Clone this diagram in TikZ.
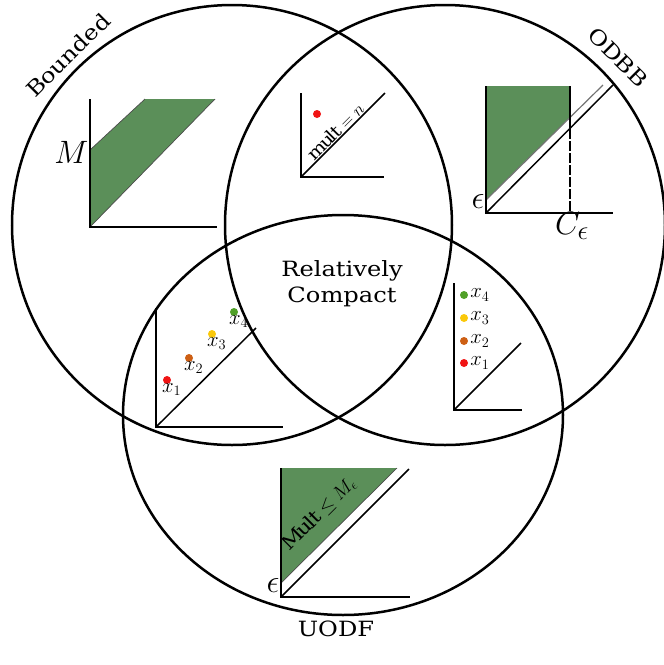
\documentclass[tikz,border=0pt]{standalone}
\usepackage{amsmath,amssymb}
\usepackage{fontspec}
\setmainfont{DejaVu Serif}[FakeStretch=1.15]
\usetikzlibrary{positioning, shapes.geometric}
\definecolor{regiongreen}{RGB}{91,143,89}
\definecolor{ptred}{RGB}{240,20,20}
\definecolor{ptorange}{RGB}{205,95,20}
\definecolor{ptyellow}{RGB}{250,200,10}
\definecolor{ptgreen}{RGB}{80,160,40}
\tikzset{
  venn/.style={circle, draw=black, line width=2.5pt, minimum size=440pt, inner sep=0pt},
  axis/.style={draw=black, line width=1.5pt},
  diag/.style={draw=black, line width=1.5pt},
  region/.style={fill=regiongreen},
  setlabel/.style={font=\fontsize{21}{26}\selectfont, align=center},
  mathlabel/.style={font=\Huge, scale=1.3, inner sep=1pt},
  ptlabel/.style={font=\huge, inner sep=0pt},
  ptdot/.style={circle, fill=#1, minimum size=8pt, inner sep=0pt},
  slanted/.style={rotate=45, anchor=south, inner sep=1pt}
}

\begin{document}
\begin{tikzpicture}[x=1pt, y=-1pt]
\useasboundingbox (0,0) rectangle (664,665);

% the three sets
\node[venn] (bounded) at (232,225) {};
\node[venn] (odbb) at (445,225) {};
\node[venn, ellipse, minimum width=440pt, minimum height=400pt] (uodf) at (343,415) {};
\node[setlabel, rotate=45] (boundedlbl) at (68,55) {Bounded};
\node[setlabel, rotate=-45] (odbblbl) at (618,57) {ODBB};
\node[setlabel] (uodflbl) at (336,629) {UODF};
\node[setlabel] (compact) at (342,284) {Relatively\\Compact};

% bounded
\fill[region] (90,227) -- (90,150) -- (145,99) -- (215,99) -- cycle;
\draw[black!70, line width=0.7pt] (90,150) -- (145,99) (90,227) -- (215,99);
\draw[axis] (90,99) -- (90,227) -- (217,227);
\node[mathlabel, left] (mlbl) at (90,152) {$M$};

% mult = n
\draw[axis] (301,93) -- (301,177) -- (384,177);
\draw[diag] (301,177) -- (385,93);
\node[ptdot=ptred] (multpt) at (317,114) {};
\node[slanted, font=\LARGE] (multlbl) at (341,137) {$\mathrm{mult}=n$};

% odbb
\fill[region] (486,86) -- (570,86) -- (570,117) -- (486,200) -- cycle;
\draw[black!55, line width=1.2pt] (486,200) -- (603,85);
\draw[diag] (486,213) -- (613,85);
\draw[black, line width=1.2pt] (570,86) -- (570,129);
\draw[black, line width=1.2pt, dash pattern=on 10pt off 2pt] (570,129) -- (570,213);
\draw[axis] (486,86) -- (486,213) -- (613,213);
\node[mathlabel, left] (epslbl) at (486,202) {$\epsilon$};
\node[mathlabel, below] (clbl) at (572,211) {$C_\epsilon$};

% points along the diagonal
\draw[axis] (156,308) -- (156,427) -- (283,427);
\draw[diag] (156,427) -- (256,328);
\node[ptdot=ptred] (a1) at (167,380) {};
\node[ptdot=ptorange] (a2) at (189,358) {};
\node[ptdot=ptyellow] (a3) at (212,334) {};
\node[ptdot=ptgreen] (a4) at (234,312) {};
\node[ptlabel, below right=0pt and -8pt of a1] {$x_1$};
\node[ptlabel, below right=0pt and -8pt of a2] {$x_2$};
\node[ptlabel, below right=0pt and -8pt of a3] {$x_3$};
\node[ptlabel, below right=0pt and -8pt of a4] {$x_4$};

% points going up
\draw[axis] (454,283) -- (454,410) -- (522,410);
\draw[diag] (454,410) -- (521,343);
\node[ptdot=ptgreen] (b4) at (464,295) {};
\node[ptdot=ptyellow] (b3) at (464,318) {};
\node[ptdot=ptorange] (b2) at (464,341) {};
\node[ptdot=ptred] (b1) at (464,363) {};
\node[ptlabel, right=2pt of b1] {$x_1$};
\node[ptlabel, right=2pt of b2] {$x_2$};
\node[ptlabel, right=2pt of b3] {$x_3$};
\node[ptlabel, right=2pt of b4] {$x_4$};

% uodf
\fill[region] (281,468) -- (397,468) -- (281,583) -- cycle;
\draw[black!70, line width=0.7pt] (281,583) -- (397,468);
\draw[diag] (281,597) -- (409,469);
\draw[axis] (281,468) -- (281,597) -- (410,597);
\node[mathlabel, left] (eps2lbl) at (281,586) {$\epsilon$};
\node[rotate=45, font=\huge, scale=0.92] (multlbl2) at (319,514) {$\mathrm{Mult}\leq M_\epsilon$};
\end{tikzpicture}
\end{document}
